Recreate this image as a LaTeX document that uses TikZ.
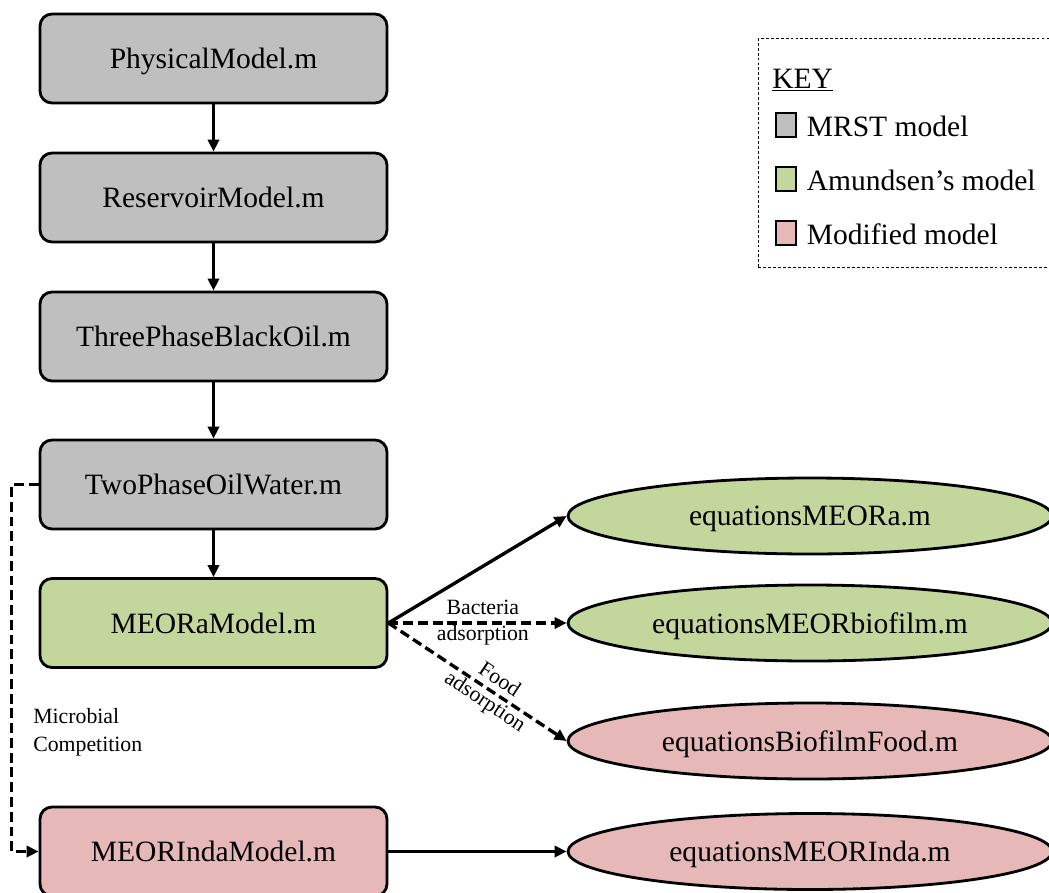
\documentclass[tikz,border=0pt]{standalone}
\usepackage{fontspec}
\setmainfont{Liberation Serif}
\usepackage{xcolor}
\usetikzlibrary{arrows.meta, positioning, calc, shapes.geometric}
\definecolor{mrstcolor}{HTML}{BFBFBF}
\definecolor{amundcolor}{HTML}{C3D69B}
\definecolor{modcolor}{HTML}{E6B9B8}
\tikzset{
	model/.style={draw=black, line width=2pt, shape=rectangle, rounded corners=8.5pt, minimum width=8.675cm, minimum height=2.225cm, text depth=0pt, font=\fontsize{21}{25}\selectfont},
	mrst/.style={model, fill=mrstcolor},
	amund/.style={model, fill=amundcolor},
	modified/.style={model, fill=modcolor},
	eqn/.style={draw=black, line width=2pt, shape=ellipse, inner sep=0pt, minimum width=12.1cm, minimum height=1.9cm, text depth=0pt, font=\fontsize{21}{25}\selectfont},
	keysquare/.style={draw=black, line width=2pt, shape=rectangle, minimum width=0.5cm, minimum height=0.6cm, inner sep=0pt},
	keytext/.style={anchor=west, inner sep=0pt, font=\fontsize{21}{25}\selectfont},
	transfer/.style={line width=2.4pt, -{Triangle[length=0.3cm, width=0.28cm]}},
	link/.style={transfer, dash pattern=on 7pt off 3.5pt},
	annotation/.style={inner sep=0pt, align=center, font=\fontsize{15.5}{18.5}\selectfont}
}

\begin{document}
\begin{tikzpicture}[node distance=3.475cm, on grid]
	\useasboundingbox (0,0) rectangle (26.225,-22.3);

	% MRST chain
	\node (phys) [mrst] at (5.3375,-1.4625) {PhysicalModel.m};
	\node (res) [mrst, below=of phys] {ReservoirModel.m};
	\node (three) [mrst, below=of res] {ThreePhaseBlackOil.m};
	\node (two) [mrst, below=3.7cm of three] {TwoPhaseOilWater.m};

	% MEOR models
	\node (meora) [amund, below=3.4625cm of two] {MEORaModel.m};
	\node (inda) [modified, below=5.7125cm of meora] {MEORIndaModel.m};

	% equations
	\node (eqbio) [eqn, fill=amundcolor, right=14.9125cm of meora] {equationsMEORbiofilm.m};
	\node (eqa) [eqn, fill=amundcolor, above=2.675cm of eqbio] {equationsMEORa.m};
	\node (eqfood) [eqn, fill=modcolor, below=2.95cm of eqbio] {equationsBiofilmFood.m};
	\node (eqinda) [eqn, fill=modcolor, right=14.9125cm of inda] {equationsMEORInda.m};

	\path[transfer] (phys) edge (res);
	\path[transfer] (res) edge (three);
	\path[transfer] (three) edge (two);
	\path[transfer] (two) edge (meora);
	\path[transfer] (meora.east) edge (eqa.west);
	\path[link] (meora.east) edge node[annotation, sloped, pos=0.53] {Bacteria\\adsorption} (eqbio.west); % bacteria
	\path[link] (meora.east) edge node[annotation, sloped, pos=0.58] {Food\\adsorption} (eqfood.west); % food
	\path[transfer] (inda.east) edge (eqinda.west);
	\draw[link] (two.west) -- ++(-0.675,0) |- node[annotation, pos=0.337, anchor=west, xshift=0.5cm, align=left, font=\fontsize{15.5}{20}\selectfont] {Microbial\\Competition} (inda.west);

	% Key
	\node (key) [draw=black, line width=0.7pt, dash pattern=on 2pt off 1.5pt, minimum width=7.6cm, minimum height=5.725cm, anchor=north west] at (18.95,-0.95) {};
	\node (keytitle) [keytext] at ($(key.north west)+(0.35,-1.05)$) {\underline{KEY}};
	\node (mrstbox) [keysquare, fill=mrstcolor] at ($(key.north west)+(0.7,-2.175)$) {};
	\node (mrstlab) [keytext] at ($(mrstbox.east)+(0.23,-0.03)$) {MRST model};
	\node (amundbox) [keysquare, fill=amundcolor] at ($(key.north west)+(0.7,-3.525)$) {};
	\node (amundlab) [keytext] at ($(amundbox.east)+(0.23,-0.03)$) {Amundsen’s model};
	\node (modbox) [keysquare, fill=modcolor] at ($(key.north west)+(0.7,-4.875)$) {};
	\node (modlab) [keytext] at ($(modbox.east)+(0.23,-0.03)$) {Modified model};
\end{tikzpicture}
\end{document}
